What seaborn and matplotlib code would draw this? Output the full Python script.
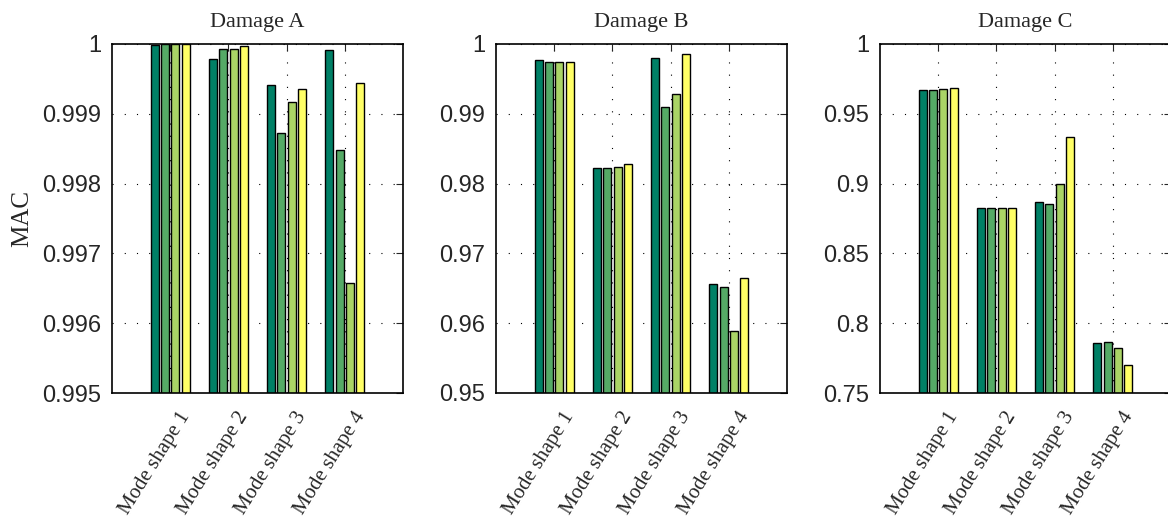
import numpy as np
import pandas as pd
import matplotlib
matplotlib.use('Agg')
import matplotlib.pyplot as plt
import matplotlib.transforms as mtransforms
from matplotlib.ticker import FormatStrFormatter, MultipleLocator
import seaborn as sns

# values
modes = ['Mode shape 1', 'Mode shape 2', 'Mode shape 3', 'Mode shape 4']
series = ['s1', 's2', 's3', 's4']
damages = ['Damage A', 'Damage B', 'Damage C']

# each list: one value per mode shape, per series
damage_a = [[0.99999, 0.99978, 0.99941, 0.99992],
            [1.00000, 0.99993, 0.99872, 0.99848],
            [1.00000, 0.99993, 0.99917, 0.99657],
            [1.00000, 0.99997, 0.99935, 0.99944]]
damage_b = [[0.99771, 0.98228, 0.99804, 0.96561],
            [0.99747, 0.98219, 0.99097, 0.96519],
            [0.99747, 0.98233, 0.99288, 0.95894],
            [0.99747, 0.98281, 0.99861, 0.96643]]
damage_c = [[0.96705, 0.8823, 0.8866, 0.7860],
            [0.96705, 0.8827, 0.8852, 0.7863],
            [0.96776, 0.8827, 0.8997, 0.7820],
            [0.96830, 0.8827, 0.9336, 0.7700]]

ylims = [(0.995, 1.0), (0.95, 1.0), (0.75, 1.0)]
ysteps = [0.001, 0.01, 0.05]

# matlab "summer" colours
colors = ['#008066', '#55aa66', '#aad466', '#ffff66']

rows = []
for dname, vals in zip(damages, [damage_a, damage_b, damage_c]):
    for s, svals in zip(series, vals):
        for m, v in zip(modes, svals):
            rows.append({'damage': dname, 'mode': m, 'series': s, 'MAC': v})
df = pd.DataFrame(rows)

sns.set_style('white')
serif = ['Liberation Serif', 'DejaVu Serif']
sans = ['Liberation Sans', 'DejaVu Sans']
plt.rcParams['font.family'] = sans

fig = plt.figure(figsize=(11.68, 5.25), dpi=100)
lefts = [112, 496, 880]
for i, dname in enumerate(damages):
    ax = fig.add_axes([lefts[i] / 1168, (525 - 393) / 525, 291 / 1168, 349 / 525])
    sub = df[df['damage'] == dname]
    sns.barplot(data=sub, x='mode', y='MAC', hue='series', order=modes,
                hue_order=series, palette=colors, width=0.71, gap=0.23,
                edgecolor='black', linewidth=1.0, saturation=1,
                legend=False, ax=ax)
    ax.set_xlim(-1, 4)
    ax.set_ylim(*ylims[i])
    ax.yaxis.set_major_locator(MultipleLocator(ysteps[i]))
    ax.yaxis.set_major_formatter(FormatStrFormatter('%g'))
    ax.set_axisbelow(True)
    ax.grid(True, color='black', linestyle=(0, (1, 10)), linewidth=0.8)
    for sp in ax.spines.values():
        sp.set_visible(True)
        sp.set_color('black')
        sp.set_linewidth(1.2)
    ax.tick_params(direction='in', length=5, width=0.8, top=True, right=True,
                   labelsize=17, pad=8)
    ax.set_xticks(range(len(modes)))
    ax.set_xticklabels(modes, rotation=58, ha='right', va='top',
                       rotation_mode='anchor', family=serif, fontsize=15)
    # push the rotated labels a little right/down like the original
    offset = mtransforms.ScaledTranslation(0.08, -0.04, fig.dpi_scale_trans)
    for lab in ax.get_xticklabels():
        lab.set_transform(lab.get_transform() + offset)
    ax.set_xlabel('')
    if i == 0:
        ax.set_ylabel('MAC', family=serif, fontsize=18, labelpad=6)
    else:
        ax.set_ylabel('')
    ax.set_title(dname, family=serif, fontsize=16, pad=12)

fig.savefig('out.png', dpi=100)
